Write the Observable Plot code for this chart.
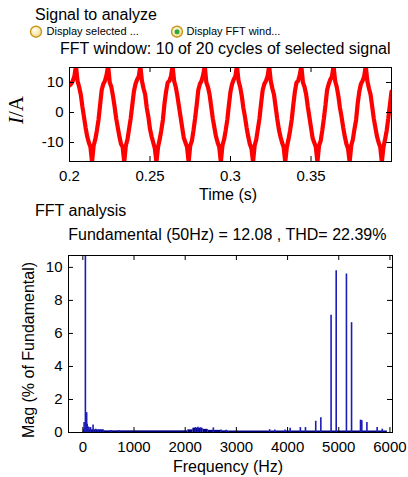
<!DOCTYPE html>
<html><head><meta charset="utf-8">
<script src="https://cdn.jsdelivr.net/npm/d3@7"></script>
<script src="https://cdn.jsdelivr.net/npm/@observablehq/plot@0.6"></script>
<style>
body{margin:0;background:#fff;width:408px;height:477px;overflow:hidden;position:relative;font-family:Arial,"Liberation Sans",sans-serif;}
.t{position:absolute;white-space:nowrap;color:#000;line-height:1;}
.rot{transform:translate(-50%,-50%) rotate(-90deg);}
#top,#fft{position:absolute;left:0;}
#top{top:60px;} #fft{top:245px;}
</style></head><body>
<svg style="position:absolute;left:0;top:0" width="408" height="45">
<defs><radialGradient id="rg" cx="40%" cy="35%" r="70%"><stop offset="0" stop-color="#fffdf0"/><stop offset="1" stop-color="#efd98a"/></radialGradient></defs>
<circle cx="36" cy="31.7" r="5.5" fill="url(#rg)" stroke="#c9961a" stroke-width="1.4"/>
<circle cx="177" cy="31.7" r="5.5" fill="url(#rg)" stroke="#c9961a" stroke-width="1.4"/>
<circle cx="177" cy="31.7" r="2.5" fill="#2faa3a"/>
</svg>
<div class="t" style="left:46.5px;top:25.8px;font-size:11px">Display selected ...</div>
<div class="t" style="left:186.5px;top:25.8px;font-size:11px">Display FFT wind...</div>
<div class="t" style="left:35px;top:6.5px;font-size:16px">Signal to analyze</div>
<div class="t" style="left:60px;top:40.5px;font-size:16px">FFT window: 10 of 20 cycles of selected signal</div>
<div id="top"></div>
<div class="t rot" style="left:15.5px;top:110px;font-size:21px;font-family:'Times New Roman','Liberation Serif',serif"><i>I</i>/A</div>
<div class="t" style="left:228px;top:187px;font-size:16px;transform:translateX(-50%)">Time (s)</div>
<div class="t" style="left:35px;top:202.5px;font-size:16px">FFT analysis</div>
<div class="t" style="left:68.3px;top:226.5px;font-size:16px">Fundamental (50Hz) = 12.08 , THD= 22.39%</div>
<div id="fft"></div>
<div class="t rot" style="left:29px;top:350px;font-size:16px">Mag (% of Fundamental)</div>
<div class="t" style="left:228px;top:458.5px;font-size:16px;transform:translateX(-50%)">Frequency (Hz)</div>
<script>
// ---- Signal (1 ms sample clock from 0.2 s) ----
const sampleStart = 0.2;
const sampleStep = 0.001;
const currentA = [
  9, 9.5, 10.5, 12, 15.5, 10.5, 8.5, 6, 2, -1.5, -5, -8, -10, -11.5, -16.5, -11, -9, -6, -2.5, 2.5,
  7.5, 9.5, 10.5, 12.5, 15.5, 10, 8.5, 5.5, 2, -2, -5, -8, -10.5, -11.5, -16.5, -11, -9, -5.5, -2, 2.5,
  7, 9.5, 11, 12, 15.5, 10.5, 8, 6, 1.5, -1.5, -5.5, -8, -10, -12, -16.5, -11.5, -9, -6, -2.5, 3,
  7, 10, 10.5, 12, 15.5, 10.5, 8.5, 5.5, 2, -1.5, -5, -8.5, -10, -11.5, -16.5, -11, -9.5, -6, -2, 2.5,
  7.5, 9.5, 10.5, 12.5, 15.5, 10, 8.5, 6, 2, -2, -5, -8, -10, -11.5, -16.5, -11, -9, -6, -2.5, 2.5,
  7, 9.5, 11, 12, 15.5, 10.5, 8.5, 5.5, 1.5, -1.5, -5, -8, -10.5, -12, -16.5, -11, -9, -5.5, -2, 3,
  7.5, 9.5, 10.5, 12, 15.5, 10.5, 8, 6, 2, -2, -5.5, -8, -10, -11.5, -16.5, -11.5, -9, -6, -2.5, 2.5,
  7, 10, 10.5, 12.5, 15.5, 10, 8.5, 6, 2, -1.5, -5, -8.5, -10, -11.5, -16.5, -11, -9.5, -6, -2, 2.5,
  7.5, 9.5, 11, 12, 15.5, 10.5, 8.5, 5.5, 1.5, -1.5, -5, -8, -10.5, -12, -16.5, -11, -9, -5.5, -2.5, 3,
  7, 9.5, 10.5, 12, 15.5, 10.5, 8, 6, 2, -2, -5, -8, -10, -11.5, -16.5, -11.5, -9, -6, -2, 2.5,
  7
];
const timeTicks = [0.2, 0.25, 0.3, 0.35];
const currentTicks = [-10, 0, 10];

// ---- FFT ----
const harmonicFreq = [25, 50, 75, 85, 100, 120, 150, 200, 250, 300, 350, 400, 550, 700,
  2200, 2250, 2300, 2550, 2700, 2800, 3650, 3750, 3950, 4050, 4250, 4350, 4550, 4650,
  4850, 4950, 5150, 5250, 5425, 5450, 5550, 5750, 5850];
const harmonicMag = [0.6, 100, 1.2, 0.5, 0.35, 0.3, 0.3, 0.45, 0.2, 0.15, 0.15, 0.12, 0.12, 0.12,
  0.3, 0.32, 0.28, 0.28, 0.15, 0.14, 0.17, 0.15, 0.15, 0.25, 0.3, 0.3, 0.68, 0.9,
  7.1, 9.8, 9.6, 6.65, 0.75, 0.72, 0.6, 0.3, 0.2];
const floorStart = [10, 420, 2050, 2150, 2350, 2450, 2700, 2850];
const floorEnd   = [420, 2050, 2150, 2350, 2450, 2700, 2850, 5950];
const floorMag   = [0.16, 0.1, 0.16, 0.26, 0.19, 0.13, 0.1, 0.09];
const freqTicks = [0, 1000, 2000, 3000, 4000, 5000, 6000];
const magTicks = [0, 2, 4, 6, 8, 10];

const font = 'Arial, "Liberation Sans", sans-serif';
const sig = currentA.map((v, i) => ({t: sampleStart + i * sampleStep, i: v}));
const bars = harmonicFreq.map((f, k) => ({f, mag: harmonicMag[k]}));
const floor = floorStart.map((s, k) => ({x1: s, x2: floorEnd[k], mag: floorMag[k]}));

const tW = 408 - 69 - 17, tH = 131 - 7 - 30;
const topPlot = Plot.plot({
  width: 408, height: 131, marginLeft: 69, marginRight: 17, marginTop: 7, marginBottom: 30,
  style: {fontFamily: font, fontSize: "15px", color: "#000", background: "transparent", overflow: "visible"},
  x: {domain: [0.2, 0.4], label: null},
  y: {domain: [-16.33, 15], label: null},
  marks: [
    Plot.line(sig, {x: "t", y: "i", stroke: "#ff0000", strokeWidth: 4.2, strokeLinejoin: "miter", clip: true}),
    Plot.frame({stroke: "#000"}),
    Plot.ruleX(timeTicks, {insetTop: tH - 5, stroke: "#000"}),
    Plot.ruleX(timeTicks, {insetBottom: tH - 5, stroke: "#000"}),
    Plot.ruleY(currentTicks, {insetLeft: tW - 5, stroke: "#000"}),
    Plot.ruleY(currentTicks, {insetRight: tW - 5, stroke: "#000"}),
    Plot.axisX(timeTicks, {tickSize: 0, tickPadding: 9, tickFormat: d => String(d), fontSize: 15, label: null}),
    Plot.axisY(currentTicks, {tickSize: 0, tickPadding: 6, tickFormat: d => String(d), fontSize: 15, label: null})
  ]
});
document.getElementById("top").append(topPlot);

const fW = 408 - 68 - 16, fH = 217 - 10 - 30;
const fftPlot = Plot.plot({
  width: 408, height: 217, marginLeft: 68, marginRight: 16, marginTop: 10, marginBottom: 30,
  style: {fontFamily: font, fontSize: "15px", color: "#000", background: "transparent", overflow: "visible"},
  x: {domain: [-280, 6050], label: null},
  y: {domain: [0, 10.72], label: null},
  marks: [
    Plot.rectY(floor, {x1: "x1", x2: "x2", y: "mag", fill: "#000080"}),
    Plot.ruleX(bars, {x: "f", y1: 0, y2: "mag", stroke: "#1c1cb8", strokeWidth: 1.6, clip: true}),
    Plot.frame({stroke: "#000"}),
    Plot.ruleX(freqTicks, {insetTop: fH - 5, stroke: "#000"}),
    Plot.ruleX(freqTicks, {insetBottom: fH - 5, stroke: "#000"}),
    Plot.ruleY(magTicks, {insetLeft: fW - 5, stroke: "#000"}),
    Plot.ruleY(magTicks, {insetRight: fW - 5, stroke: "#000"}),
    Plot.axisX(freqTicks, {tickSize: 0, tickPadding: 9, tickFormat: d => String(d), fontSize: 15, label: null}),
    Plot.axisY(magTicks, {tickSize: 0, tickPadding: 6, tickFormat: d => String(d), fontSize: 15, label: null})
  ]
});
document.getElementById("fft").append(fftPlot);
</script>
</body></html>
